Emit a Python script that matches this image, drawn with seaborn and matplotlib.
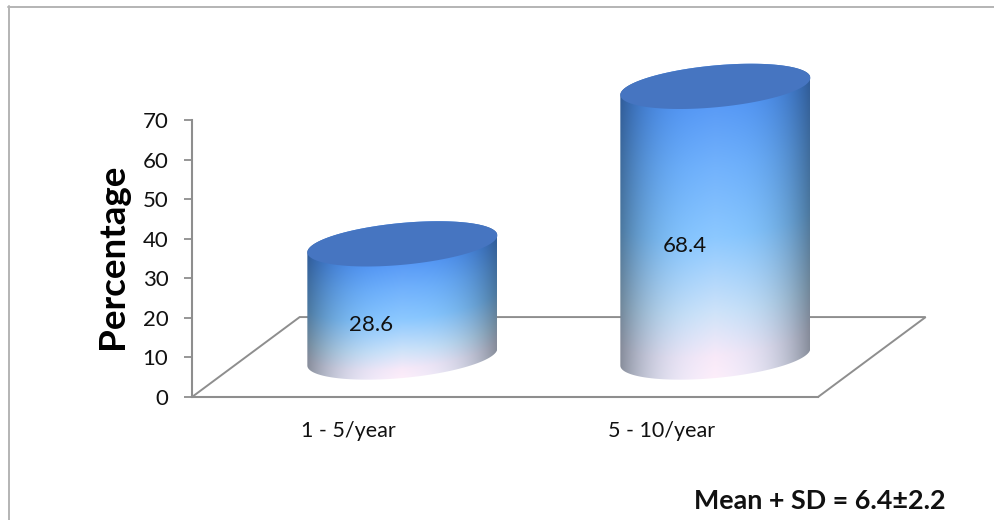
import matplotlib
matplotlib.use("Agg")
import matplotlib.pyplot as plt
import numpy as np
import pandas as pd
import seaborn as sns
from matplotlib.lines import Line2D
from matplotlib.patches import Polygon

categories = ["1 - 5/year", "5 - 10/year"]
percentages = [28.6, 68.4]
y_ticks = [0, 10, 20, 30, 40, 50, 60, 70]
y_title = "Percentage"
note = "Mean + SD = 6.4±2.2"

FLOOR_DEPTH = 20.2      # height of the back floor edge, in axis units
FLOOR_SHIFT = 0.344     # sideways run of the floor, in category units
ELLIPSE_TILT = 2.15     # rise of the ellipse's right end, in axis units
ELLIPSE_MINOR = 5.3     # half height of the ellipse, in axis units
LINE_GREY = "#8e8e8e"
CAP_BLUE = "#4675c1"

sns.set_theme(style="white", rc={"font.family": ["Lato", "DejaVu Sans"]})
plt.rcParams["font.family"] = ["Lato", "DejaVu Sans"]

W, H = 994, 520
fig = plt.figure(figsize=(W / 100, H / 100), dpi=100, facecolor="white")
ax = fig.add_axes([192 / W, 1 - 397 / H, (818 - 192) / W, (397 - 120) / H])
ax.set_facecolor("none")

table = pd.DataFrame({"group": categories, "value": percentages})
sns.barplot(data=table, x="group", y="value", width=0.607, ax=ax, legend=False)

ax.set_xlim(-0.5, 1.5)
ax.set_ylim(0, 70)
ax.set_yticks(y_ticks)
ax.set_xlabel("")
ax.set_ylabel(y_title, fontsize=26.5, fontweight="bold", color="black", labelpad=10)
ax.yaxis.label.set_y(0.507)
ax.tick_params(axis="y", length=6, width=1.3, color=LINE_GREY, pad=11,
               labelsize=16, labelcolor="#111111", left=True)
ax.tick_params(axis="x", length=0, pad=17, labelsize=15.5, labelcolor="#111111")
sns.despine(ax=ax, top=True, right=True)
for side in ("left", "bottom"):
    ax.spines[side].set_color(LINE_GREY)
    ax.spines[side].set_linewidth(1.5)

# Floor of the 3D plot: the diagonal edges and the back edge
floor_x = [-0.5, -0.5 + FLOOR_SHIFT, 1.5 + FLOOR_SHIFT, 1.5]
floor_y = [0, FLOOR_DEPTH, FLOOR_DEPTH, 0]
ax.plot(floor_x, floor_y, color=LINE_GREY, lw=1.4, clip_on=False, zorder=1,
        solid_joinstyle="miter")


def lerp_stops(t, stops):
    """Interpolate RGB colour stops over t in [0, 1]."""
    pos = [s[0] for s in stops]
    rgb = np.array([matplotlib.colors.to_rgb(s[1]) for s in stops])
    return np.stack([np.interp(t, pos, rgb[:, i]) for i in range(3)], axis=-1)


side_stops = [(0.0, "#5a9bf6"), (0.22, "#72b2fc"), (0.48, "#8cc8ff"),
              (0.76, "#cfe3f9"), (0.92, "#f8e9f8"), (1.0, "#fdeefa")]

base_offset = FLOOR_DEPTH / 2
for bar, value in zip(ax.patches, percentages):
    # The flat bars only supply positions; the cylinder replaces them
    bar.set_visible(False)
    half = bar.get_width() / 2
    cx = bar.get_x() + half + FLOOR_SHIFT / 2
    y0 = base_offset
    y1 = base_offset + bar.get_height()

    t = np.linspace(0, 2 * np.pi, 241)
    ex = half * np.cos(t)
    ey_tilt = ELLIPSE_TILT * np.cos(t)
    ey = ELLIPSE_MINOR * np.sin(t)

    # Body outline: top ellipse's far side plus bottom ellipse's near side
    upper = t[:121]
    lower = t[120:241]
    outline = np.vstack([
        np.column_stack([cx + half * np.cos(upper),
                         y1 + ELLIPSE_TILT * np.cos(upper) + ELLIPSE_MINOR * np.sin(upper)]),
        np.column_stack([cx + half * np.cos(lower),
                         y0 + ELLIPSE_TILT * np.cos(lower) + ELLIPSE_MINOR * np.sin(lower)]),
    ])
    clip = Polygon(outline, closed=True, transform=ax.transData, facecolor="none",
                   edgecolor="none", clip_on=False)
    ax.add_patch(clip)

    # Shaded side surface: vertical colour ramp darkened towards the edges
    ylow, yhigh = y0 - 7, y1 + 7
    uu, yy = np.meshgrid(np.linspace(-1, 1, 200), np.linspace(ylow, yhigh, 500))
    front_top = y1 - ELLIPSE_MINOR * np.sqrt(1 - uu ** 2) + ELLIPSE_TILT * uu
    front_bot = y0 - ELLIPSE_MINOR * np.sqrt(1 - uu ** 2) + ELLIPSE_TILT * uu
    frac = np.clip((front_top - yy) / (front_top - front_bot), 0, 1)
    colour = lerp_stops(frac, side_stops)
    shade = 1 - 0.38 * np.abs(uu) ** 3
    edge_tint = np.array([0.93, 0.98, 1.0])[None, None, :] ** (np.abs(uu)[..., None] * 2)
    rgb = np.clip(colour * shade[..., None] * edge_tint, 0, 1)
    img = ax.imshow(rgb, origin="lower", aspect="auto", zorder=2,
                    extent=[cx - half, cx + half, ylow, yhigh],
                    interpolation="bilinear")
    img.set_clip_box(fig.bbox)
    img.set_clip_path(clip)

    # Top cap
    ax.fill(cx + ex, y1 + ey_tilt + ey, color=CAP_BLUE, lw=0, zorder=3, clip_on=False)

    ax.text(bar.get_x() + half + 0.073, value / 2 + 3.9, f"{value:.1f}",
            ha="center", va="center", fontsize=16, color="#111111", zorder=4)

ax.set_xlim(-0.5, 1.5)
ax.set_ylim(0, 70)

fig.text(820 / W, 1 - 501 / H, note, ha="center", va="center",
         fontsize=19.4, fontweight="bold", color="#111111")

# Thin border along the top and left edges
fig.add_artist(Line2D([8 / W, 1], [1 - 6.5 / H, 1 - 6.5 / H], color="#b4b4b4", lw=1.4))
fig.add_artist(Line2D([8.5 / W, 8.5 / W], [0, 1 - 6 / H], color="#b4b4b4", lw=1.4))

fig.savefig("out.png", dpi=100, facecolor="white")
